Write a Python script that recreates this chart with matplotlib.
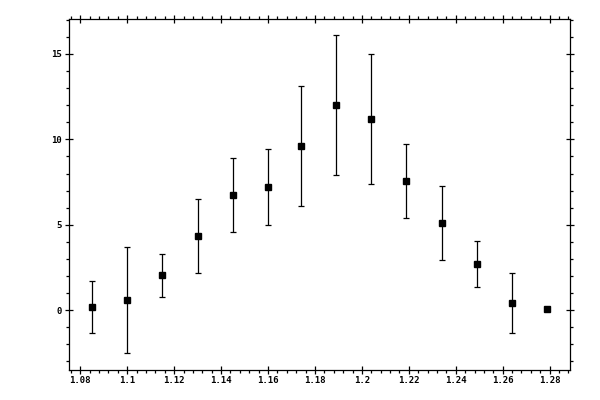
import matplotlib as mil

mil.use('Agg')
import matplotlib.pyplot as plt
from matplotlib.ticker import MultipleLocator

xValues = [1.085, 1.100, 1.115, 1.130, 1.145, 1.160, 1.174,
           1.189, 1.204, 1.219, 1.234, 1.249, 1.264, 1.279]
yValues = [0.18, 0.59, 2.05, 4.33, 6.74, 7.20, 9.61,
           12.01, 11.19, 7.56, 5.10, 2.69, 0.41, 0.06]
yErrors = [1.54, 3.12, 1.25, 2.16, 2.15, 2.22, 3.50,
           4.10, 3.81, 2.17, 2.19, 1.34, 1.77, 0.0]

xTicks = [1.08, 1.10, 1.12, 1.14, 1.16, 1.18, 1.20, 1.22, 1.24, 1.26, 1.28]
xTickLabels = ["1.08", "1.1", "1.12", "1.14", "1.16", "1.18",
               "1.2", "1.22", "1.24", "1.26", "1.28"]
yTicks = [0, 5, 10, 15]

f = plt.figure(figsize=[6, 4], dpi=100)
ax = f.add_axes([0.1158, 0.075, 0.8347, 0.8768])

ax.errorbar(xValues, yValues, yerr=yErrors, fmt="s", color="black",
            markersize=5, elinewidth=0.9, capsize=2, capthick=0.9)

ax.set_xlim(1.0754, 1.2888)
ax.set_ylim(-3.5, 17.03)

ax.set_xticks(xTicks)
ax.set_xticklabels(xTickLabels)
ax.set_yticks(yTicks)
ax.xaxis.set_minor_locator(MultipleLocator(0.004))
ax.yaxis.set_minor_locator(MultipleLocator(1))

ax.tick_params(which="major", direction="inout", length=5.5, width=0.9,
               top=True, right=True, labelsize=6.5)
ax.tick_params(which="minor", direction="out", length=2.2, width=0.9,
               top=True, right=True)
ax.tick_params(axis="x", which="major", pad=1.5)
ax.tick_params(axis="y", which="major", pad=2.5)
for lab in ax.get_xticklabels() + ax.get_yticklabels():
    lab.set_family("DejaVu Sans Mono")
    lab.set_weight("bold")

for s in ax.spines.values():
    s.set_linewidth(0.9)

f.savefig("out.png", dpi=100)
